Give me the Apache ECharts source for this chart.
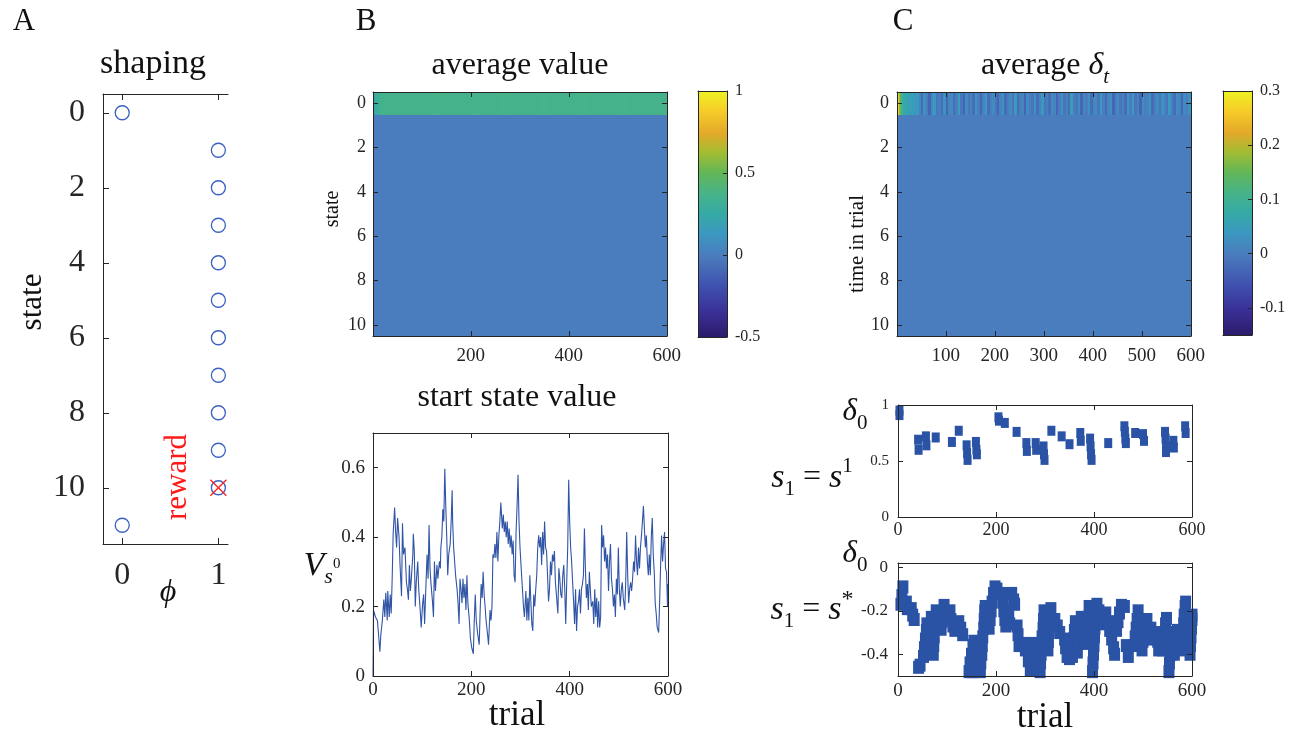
<!DOCTYPE html>
<html><head><meta charset="utf-8">
<script src="https://cdn.jsdelivr.net/npm/echarts@6/dist/echarts.min.js"></script>
<style>html,body{margin:0;padding:0;background:#fff}#c{width:1294px;height:734px}</style>
</head><body><div id="c"></div>
<script>
// ================= DATA =================
const N_TRIALS = 600;
// Panel A: shaping feature phi per state
const shapingStates = [0,1,2,3,4,5,6,7,8,9,10,11];
const shapingPhi    = [0,1,1,1,1,1,1,1,1,1,1,0];
const rewardStates  = [10];
const rewardPhi     = [1];
const stateTicks = [0,2,4,6,8,10];
const phiTicks = [0,1];

// Panel B: average value heatmap (state 0 row; other states flat)
const avgValueEarly = [0.12,0.15,0.18,0.20,0.22,0.24,0.26,0.27,0.28,0.29,0.30,0.31,0.32,0.33,0.33,0.34,0.34,0.35,0.35,0.35]; // trials 1-20
const avgValueLateBins = [0.36,0.36,0.36,0.36,0.36,0.37,0.36,0.36,0.36,0.37,0.36,0.36,0.37,0.36,0.36,0.36,0.37,0.36,0.36,0.36,0.37,0.36,0.36,0.36,0.37,0.36,0.36,0.36,0.36]; // 20-trial bins, trials 21-600
const avgValueOtherStates = [0,0,0,0,0,0,0,0,0,0]; // states 1..10
const avgValueRange = [-0.5, 1];
const avgValueCbTicks = [-0.5,0,0.5,1];

// Panel C: average delta_t heatmap
const avgDeltaEarly = [0.30,0.30,0.29,0.28,0.26,0.22,0.18,0.15,0.13,0.12,0.11,0.10,0.09,0.09,0.08,0.08,0.07,0.07,0.07,0.06]; // trials 1-20
const avgDeltaLateBins = [0.06,0.05,0.05,0.04,0.04,
 0.01,-0.02,0.03,0.00,-0.03,0.02,0.04,-0.01,0.00,-0.02,
 0.03,-0.03,0.01,0.02,-0.02,0.00,0.05,-0.01,-0.03,0.02,
 -0.01,0.01,-0.02,0.03,0.00,-0.03,0.01,0.04,-0.02,0.00,
 0.02,-0.01,-0.03,0.01,0.03,-0.02,0.00,0.02,-0.01,0.04,
 -0.02,0.00,0.01,-0.03,0.02,0.00,-0.01,0.03,-0.02,0.01,
 0.04,-0.01,0.00,-0.02,0.02,0.01,-0.03,0.00,0.03,-0.01,
 0.01,-0.02,0.05,0.00,-0.01,0.02,-0.03,0.01,0.00,0.03,
 -0.02,0.01,0.02,-0.01,0.04,0.00,-0.02,0.01,0.03,-0.03,
 0.00,0.02,-0.01,0.01,-0.02,0.03,0.00,0.04,-0.01,0.01,
 -0.03,0.02,0.00,0.01,0.03,-0.02,0.00,0.02,-0.01,0.03,
 0.01,-0.01,0.04,0.00,-0.02,0.02,0.01,-0.03,0.02,0.00,0.03]; // 5-trial bins, trials 21-600
const avgDeltaOtherTimes = [0,0,0,0,0,0,0,0,0,0];
const avgDeltaRange = [-0.15, 0.3];
const avgDeltaCbTicks = [-0.1,0,0.1,0.2,0.3];

// Panel B bottom: start state value per trial [trial, value]
const startStateValue = [[0,0],[1,0.19],[5,0.17],[9,0.16],[14,0.07],[16,0.12],[19,0.16],[22,0.22],[24,0.17],[26,0.24],[29,0.16],[30,0.245],[33,0.17],[35,0.235],[37,0.18],[39,0.28],[41,0.41],[44,0.485],[46,0.415],[48,0.37],[50,0.455],[53,0.40],[55,0.32],[58,0.23],[60,0.44],[62,0.35],[65,0.37],[68,0.27],[70,0.25],[72,0.22],[74,0.32],[76,0.245],[78,0.28],[81,0.35],[82,0.41],[84,0.36],[86,0.20],[88,0.27],[91,0.33],[93,0.25],[96,0.19],[98,0.14],[101,0.21],[103,0.235],[105,0.15],[107,0.235],[110,0.35],[112,0.28],[114,0.435],[116,0.31],[118,0.265],[121,0.215],[123,0.17],[125,0.33],[127,0.245],[130,0.32],[132,0.28],[135,0.33],[137,0.31],[138,0.37],[140,0.40],[142,0.48],[144,0.445],[146,0.597],[148,0.49],[150,0.40],[152,0.29],[154,0.35],[157,0.38],[159,0.445],[161,0.535],[162,0.445],[164,0.37],[166,0.33],[168,0.29],[171,0.25],[173,0.21],[175,0.15],[177,0.28],[179,0.25],[181,0.21],[183,0.28],[185,0.225],[187,0.265],[189,0.19],[191,0.29],[193,0.21],[196,0.16],[198,0.11],[201,0.08],[204,0.064],[206,0.16],[208,0.235],[210,0.16],[213,0.12],[216,0.09],[218,0.19],[220,0.265],[222,0.225],[224,0.30],[226,0.235],[228,0.20],[230,0.16],[233,0.12],[235,0.09],[238,0.19],[240,0.16],[242,0.20],[244,0.35],[246,0.34],[248,0.38],[250,0.34],[252,0.415],[254,0.33],[256,0.405],[258,0.445],[260,0.50],[263,0.425],[265,0.465],[267,0.415],[269,0.445],[271,0.40],[273,0.445],[275,0.38],[277,0.425],[279,0.37],[281,0.405],[283,0.35],[285,0.39],[287,0.29],[289,0.27],[291,0.415],[293,0.49],[295,0.58],[297,0.445],[299,0.37],[301,0.32],[304,0.25],[306,0.20],[308,0.17],[311,0.245],[313,0.16],[315,0.225],[317,0.16],[319,0.29],[321,0.215],[323,0.15],[325,0.13],[327,0.235],[329,0.20],[331,0.25],[333,0.29],[335,0.37],[337,0.405],[339,0.37],[341,0.40],[343,0.32],[345,0.415],[347,0.35],[349,0.445],[351,0.37],[353,0.36],[355,0.29],[357,0.215],[359,0.25],[361,0.33],[363,0.29],[365,0.35],[367,0.33],[369,0.36],[371,0.27],[373,0.235],[376,0.18],[378,0.31],[380,0.28],[382,0.235],[384,0.225],[386,0.29],[388,0.32],[390,0.25],[392,0.15],[394,0.27],[396,0.37],[398,0.565],[400,0.445],[402,0.37],[404,0.33],[406,0.27],[408,0.215],[410,0.15],[412,0.25],[414,0.13],[416,0.20],[418,0.215],[420,0.25],[422,0.18],[424,0.25],[426,0.265],[428,0.29],[430,0.425],[432,0.31],[434,0.225],[436,0.265],[438,0.19],[440,0.30],[442,0.25],[444,0.20],[447,0.215],[449,0.15],[451,0.25],[453,0.17],[455,0.225],[457,0.14],[459,0.215],[461,0.14],[463,0.17],[465,0.435],[467,0.37],[469,0.405],[471,0.33],[473,0.37],[475,0.31],[477,0.35],[479,0.245],[481,0.33],[483,0.38],[485,0.28],[487,0.25],[489,0.20],[491,0.235],[493,0.17],[495,0.28],[497,0.235],[499,0.37],[501,0.25],[503,0.20],[505,0.25],[507,0.27],[509,0.225],[512,0.19],[514,0.27],[516,0.415],[518,0.29],[520,0.21],[522,0.25],[524,0.27],[526,0.245],[528,0.28],[530,0.33],[532,0.30],[534,0.405],[536,0.33],[538,0.29],[540,0.37],[542,0.31],[544,0.37],[546,0.405],[548,0.445],[550,0.49],[552,0.425],[554,0.37],[556,0.405],[558,0.33],[560,0.29],[562,0.35],[564,0.29],[566,0.40],[568,0.455],[570,0.35],[572,0.30],[574,0.21],[576,0.18],[578,0.14],[581,0.125],[583,0.215],[585,0.32],[587,0.405],[589,0.33],[591,0.38],[593,0.415],[595,0.31],[597,0.30],[599,0.20],[600,0.265]];
const startValueTicks = [0,0.2,0.4,0.6];
const trialTicks = [0,200,400,600];

// Panel C middle: delta_0 on trials with s1 = s^1 [trial, value]
const delta0S1 = [[3,0.95],[3,0.91],[41,0.69],[42,0.6],[57,0.72],[58,0.64],[77,0.71],[110,0.67],[124,0.77],[140,0.64],[141,0.57],[142,0.51],[159,0.67],[160,0.6],[161,0.56],[205,0.89],[206,0.86],[218,0.84],[242,0.76],[262,0.66],[263,0.59],[281,0.66],[282,0.6],[297,0.63],[298,0.56],[299,0.51],[313,0.77],[334,0.72],[350,0.65],[372,0.75],[373,0.68],[392,0.7],[393,0.63],[394,0.56],[395,0.51],[429,0.66],[462,0.81],[463,0.76],[464,0.7],[465,0.66],[484,0.75],[500,0.74],[502,0.68],[545,0.76],[546,0.7],[547,0.63],[547,0.58],[562,0.68],[563,0.62],[586,0.81],[587,0.75]];
const delta0S1Ticks = [0,0.5,1];

// Panel C bottom: delta_0 on trials with s1 = s* [trial, value]
const delta0SStar = [[6,-0.17],[8,-0.13],[10,-0.09],[17,-0.16],[19,-0.19],[27,-0.19],[30,-0.22],[33,-0.24],[42,-0.46],[45,-0.45],
 [52,-0.41],[54,-0.37],[56,-0.33],[58,-0.29],[59,-0.26],[62,-0.39],[64,-0.35],[65,-0.31],[66,-0.27],[68,-0.23],
 [72,-0.4],[73,-0.36],[74,-0.32],[76,-0.28],[77,-0.24],[78,-0.2],[88,-0.285],[90,-0.25],[92,-0.21],[94,-0.175],
 [106,-0.2],[108,-0.24],[112,-0.27],[116,-0.29],[124,-0.25],[128,-0.28],[132,-0.31],
 [145,-0.48],[147,-0.44],[150,-0.4],[153,-0.36],[155,-0.34],[152,-0.48],[156,-0.46],
 [168,-0.48],[169,-0.44],[171,-0.4],[172,-0.36],[173,-0.32],[175,-0.28],[176,-0.24],[177,-0.2],[178,-0.18],
 [186,-0.28],[188,-0.24],[190,-0.2],[192,-0.16],[195,-0.12],[198,-0.09],[202,-0.1],
 [212,-0.12],[214,-0.16],[216,-0.2],[218,-0.24],[220,-0.27],[226,-0.21],[228,-0.26],[232,-0.12],[236,-0.15],[238,-0.17],
 [243,-0.27],[245,-0.31],[247,-0.36],[258,-0.35],[260,-0.38],[266,-0.43],[270,-0.47],
 [278,-0.35],[280,-0.39],[282,-0.43],[283,-0.47],
 [290,-0.48],[291,-0.44],[292,-0.4],[293,-0.36],[294,-0.32],[296,-0.28],[297,-0.24],[298,-0.2],
 [306,-0.38],[307,-0.34],[308,-0.3],[309,-0.26],[310,-0.22],[312,-0.19],[320,-0.24],[325,-0.27],[330,-0.3],
 [340,-0.33],[342,-0.37],[345,-0.41],[350,-0.42],[356,-0.41],[357,-0.37],[358,-0.33],[360,-0.29],[362,-0.25],
 [366,-0.39],[368,-0.35],[370,-0.31],[372,-0.27],[374,-0.23],[382,-0.35],[384,-0.31],[386,-0.27],[388,-0.23],[390,-0.18],
 [397,-0.48],[398,-0.44],[399,-0.4],[400,-0.36],[401,-0.32],[402,-0.28],[403,-0.24],
 [406,-0.17],[410,-0.2],[414,-0.23],[417,-0.26],[424,-0.21],[428,-0.25],[432,-0.29],[436,-0.33],[440,-0.37],[442,-0.4],
 [446,-0.29],[449,-0.25],[452,-0.21],[456,-0.175],[462,-0.18],[466,-0.36],[470,-0.41],
 [482,-0.36],[484,-0.32],[486,-0.28],[488,-0.24],[490,-0.2],[498,-0.38],[500,-0.34],[502,-0.3],[505,-0.26],[508,-0.24],
 [516,-0.28],[518,-0.33],[526,-0.3],[530,-0.34],[532,-0.38],[540,-0.38],[542,-0.34],[544,-0.3],[546,-0.26],[548,-0.235],
 [553,-0.48],[554,-0.44],[556,-0.4],[557,-0.36],[558,-0.32],[559,-0.3],[564,-0.4],[566,-0.36],[568,-0.32],[570,-0.29],
 [578,-0.38],[580,-0.34],[582,-0.3],[583,-0.26],[584,-0.22],[586,-0.18],[587,-0.16],
 [596,-0.4],[597,-0.36],[598,-0.32],[599,-0.28],[600,-0.24],[600,-0.22]];
const delta0SStarTicks = [-0.4,-0.2,0];
const heatTrialTicksB = [200,400,600];
const heatTrialTicksC = [100,200,300,400,500,600];

// ================= STYLE / HELPERS =================
const SERIF = '"Liberation Serif","DejaVu Serif","Times New Roman",serif';
const AX = '#262626';
const BLUE = '#2a53a5';
const parulaStops = [
  [0.00,'#2c1b6b'],[0.10,'#3a2f95'],[0.20,'#3f4fae'],[0.333,'#4a7dbd'],[0.42,'#3b98c0'],
  [0.50,'#35aaa5'],[0.58,'#46b38a'],[0.667,'#62b657'],[0.75,'#a3bd32'],[0.83,'#e4a92a'],
  [0.92,'#f6cd28'],[1.00,'#eef222']];
function hex2rgb(h){return [parseInt(h.slice(1,3),16),parseInt(h.slice(3,5),16),parseInt(h.slice(5,7),16)];}
function colormap(t){
  t = Math.max(0, Math.min(1, t));
  for (let i=1;i<parulaStops.length;i++){
    const [t1,c1]=parulaStops[i-1],[t2,c2]=parulaStops[i];
    if (t<=t2){const f=(t-t1)/(t2-t1);const a=hex2rgb(c1),b=hex2rgb(c2);
      return 'rgb('+a.map((v,k)=>Math.round(v+(b[k]-v)*f)).join(',')+')';}
  }
  return parulaStops[parulaStops.length-1][1];
}
function buildHeat(early, late, binSize, others){
  const out=[];
  others.forEach((v,k)=>out.push([1,N_TRIALS,k+1,v]));
  early.forEach((v,i)=>out.push([i+1,i+1,0,v]));
  late.forEach((v,j)=>{const s=early.length+1+j*binSize; out.push([s,Math.min(s+binSize-1,N_TRIALS),0,v]);});
  return out;
}

const grids=[], xAxes=[], yAxes=[];
function addGrid(l,t,w,h){grids.push({left:l,top:t,width:w,height:h,containLabel:false,outerBoundsMode:'none'});return grids.length-1;}
function mkAxis(arr, g, position, min, max, o){
  o=o||{};
  const ticks=o.ticks||null;
  arr.push({type:'value', gridIndex:g, position, min, max, inverse:!!o.inverse,
    splitLine:{show:false},
    axisLine:{show:o.line!==false,onZero:false,lineStyle:{color:AX,width:1}},
    axisTick:{show:!!ticks,inside:true,length:o.tickLen||5,lineStyle:{color:AX,width:1},customValues:ticks||undefined},
    axisLabel:{show:!!(o.labels&&ticks),customValues:ticks||undefined,color:AX,fontFamily:SERIF,fontSize:o.fontSize||19,margin:o.margin==null?8:o.margin,hideOverlap:false},
    z:10});
  return arr.length-1;
}
function boxAxes(g, xr, yr, o){
  const xi=mkAxis(xAxes,g,'bottom',xr[0],xr[1],{ticks:o.xt,labels:true,fontSize:o.xfs,margin:o.xm});
  mkAxis(xAxes,g,'top',xr[0],xr[1],{ticks:o.xt,labels:false});
  const yi=mkAxis(yAxes,g,'left',yr[0],yr[1],{ticks:o.yt,labels:true,fontSize:o.yfs,margin:o.ym,inverse:o.inv});
  mkAxis(yAxes,g,'right',yr[0],yr[1],{ticks:o.yt,labels:false,inverse:o.inv});
  return [xi,yi];
}
function colorbarAxes(g, r, ticks){
  const xi=mkAxis(xAxes,g,'bottom',0,1,{});
  mkAxis(xAxes,g,'top',0,1,{});
  mkAxis(yAxes,g,'left',r[0],r[1],{});
  const yi=mkAxis(yAxes,g,'right',r[0],r[1],{ticks,labels:true,fontSize:16,margin:8,tickLen:4});
  return [xi,yi];
}
function heatRender(range){
  return function(params, api){
    const a=api.coord([api.value(0)-0.5, api.value(2)-0.5]);
    const b=api.coord([api.value(1)+0.5, api.value(2)+0.5]);
    const x0=Math.floor(Math.min(a[0],b[0])), x1=Math.ceil(Math.max(a[0],b[0]));
    const y0=Math.floor(Math.min(a[1],b[1])), y1=Math.ceil(Math.max(a[1],b[1]));
    const c=colormap((api.value(3)-range[0])/(range[1]-range[0]));
    return {type:'rect',shape:{x:x0,y:y0,width:x1-x0,height:y1-y0},style:{fill:c}};
  };
}
function cbRender(params, api){
  const a=api.coord([0,api.value(2)]), b=api.coord([1,api.value(3)]);
  return {type:'rect',shape:{x:Math.min(a[0],b[0]),y:Math.min(a[1],b[1]),width:Math.abs(b[0]-a[0]),height:Math.abs(b[1]-a[1])},
    style:{fill:new echarts.graphic.LinearGradient(0,1,0,0,parulaStops.map(s=>({offset:s[0],color:s[1]})))}};
}

// ---- grids ----
const gA = addGrid(103,94,125,450);
const gBh = addGrid(373,92,294,244);
const gBc = addGrid(698,91,29,246);
const gBl = addGrid(373,433,295,243);
const gCh = addGrid(897,92,294,244);
const gCc = addGrid(1223,91,29,244);
const gCm = addGrid(898,405,294,112);
const gCb = addGrid(898,563,294,113);

// Panel A axes (left, bottom, top)
const axA_x = mkAxis(xAxes,gA,'bottom',-0.2,1.1,{ticks:phiTicks,labels:true,fontSize:32,margin:16,tickLen:6});
mkAxis(xAxes,gA,'top',-0.2,1.1,{ticks:phiTicks,labels:false,tickLen:6});
const axA_y = mkAxis(yAxes,gA,'left',-0.5,11.5,{ticks:stateTicks,labels:true,fontSize:32,margin:18,inverse:true,tickLen:6});

const [axBh_x,axBh_y]=boxAxes(gBh,[0.5,N_TRIALS+0.5],[-0.5,10.5],{xt:heatTrialTicksB,yt:stateTicks,inv:true,xfs:19,yfs:18,xm:11,ym:7});
const [axBc_x,axBc_y]=colorbarAxes(gBc,avgValueRange,avgValueCbTicks);
const [axBl_x,axBl_y]=boxAxes(gBl,[0,N_TRIALS],[0,0.7],{xt:trialTicks,yt:startValueTicks,xfs:19,yfs:19,xm:5,ym:8});
const [axCh_x,axCh_y]=boxAxes(gCh,[0.5,N_TRIALS+0.5],[-0.5,10.5],{xt:heatTrialTicksC,yt:stateTicks,inv:true,xfs:19,yfs:18,xm:11,ym:8});
const [axCc_x,axCc_y]=colorbarAxes(gCc,avgDeltaRange,avgDeltaCbTicks);
const [axCm_x,axCm_y]=boxAxes(gCm,[0,N_TRIALS],[0,1],{xt:trialTicks,yt:delta0S1Ticks,xfs:18,yfs:15,xm:4,ym:9});
const [axCb_x,axCb_y]=boxAxes(gCb,[0,N_TRIALS],[-0.5,0.02],{xt:trialTicks,yt:delta0SStarTicks,xfs:19,yfs:17,xm:6,ym:10});

const series = [
  {type:'scatter', xAxisIndex:axA_x, yAxisIndex:axA_y, symbol:'circle', symbolSize:14,
   itemStyle:{color:'rgba(0,0,0,0)',borderColor:'#3a60c0',borderWidth:1.3,opacity:1},
   data: shapingStates.map((s,i)=>[shapingPhi[i], s]), z:3, silent:true},
  {type:'custom', xAxisIndex:axA_x, yAxisIndex:axA_y, data: rewardStates.map((s,i)=>[rewardPhi[i], s]), z:4,
   renderItem:(p,api)=>{const c=api.coord([api.value(0),api.value(1)]);const r=8;
     return {type:'group',children:[
       {type:'line',shape:{x1:c[0]-r,y1:c[1]-r,x2:c[0]+r,y2:c[1]+r},style:{stroke:'#ff1a1a',lineWidth:1.2}},
       {type:'line',shape:{x1:c[0]-r,y1:c[1]+r,x2:c[0]+r,y2:c[1]-r},style:{stroke:'#ff1a1a',lineWidth:1.2}}]};}},
  {type:'custom', xAxisIndex:axBh_x, yAxisIndex:axBh_y, renderItem:heatRender(avgValueRange),
   encode:{x:[0,1],y:2}, data: buildHeat(avgValueEarly, avgValueLateBins, 20, avgValueOtherStates), z:1},
  {type:'custom', xAxisIndex:axBc_x, yAxisIndex:axBc_y, renderItem:cbRender, encode:{x:[0,1],y:[2,3]},
   data:[[0,1,avgValueRange[0],avgValueRange[1]]], z:1},
  {type:'line', xAxisIndex:axBl_x, yAxisIndex:axBl_y, data:startStateValue, showSymbol:false, symbol:'none',
   lineStyle:{color:'#3054a6',width:1.1}, z:2},
  {type:'custom', xAxisIndex:axCh_x, yAxisIndex:axCh_y, renderItem:heatRender(avgDeltaRange),
   encode:{x:[0,1],y:2}, data: buildHeat(avgDeltaEarly, avgDeltaLateBins, 5, avgDeltaOtherTimes), z:1},
  {type:'custom', xAxisIndex:axCc_x, yAxisIndex:axCc_y, renderItem:cbRender, encode:{x:[0,1],y:[2,3]},
   data:[[0,1,avgDeltaRange[0],avgDeltaRange[1]]], z:1},
  {type:'scatter', xAxisIndex:axCm_x, yAxisIndex:axCm_y, symbol:'rect', symbolSize:[8,10],
   itemStyle:{color:BLUE,opacity:1}, data:delta0S1, z:2, silent:true},
  {type:'scatter', xAxisIndex:axCb_x, yAxisIndex:axCb_y, symbol:'rect', symbolSize:[11,13],
   itemStyle:{color:BLUE,opacity:1}, data:delta0SStar, z:2, silent:true}
];

// ---- texts ----
function txt(x,y,text,size,extra){
  return Object.assign({type:'text',x,y,z:100,style:Object.assign({text,fontFamily:SERIF,fontSize:size,fill:'#111',align:'center',verticalAlign:'middle'},extra&&extra.style||{})},extra&&extra.el||{});
}
const I = (fs)=>({fontFamily:SERIF,fontStyle:'italic',fontSize:fs,lineHeight:44,verticalAlign:'middle',fill:'#111'});
const N = (fs)=>({fontFamily:SERIF,fontSize:fs,lineHeight:44,verticalAlign:'middle',fill:'#111'});
const graphics = [
  txt(24,22,'A',31), txt(366,22,'B',31), txt(903,22,'C',31),
  txt(153,64,'shaping',34),
  txt(33,302,'state',31,{el:{rotation:Math.PI/2}}),
  txt(178,477,'reward',31,{el:{rotation:Math.PI/2},style:{fill:'#ff1a1a'}}),
  txt(168,593,'ϕ',32,{style:{fontStyle:'italic'}}),
  txt(520,66,'average value',32),
  txt(333,209,'state',20,{el:{rotation:Math.PI/2}}),
  txt(517,398,'start state value',32),
  txt(517,716,'trial',35),
  txt(857,244,'time in trial',21,{el:{rotation:Math.PI/2}}),
  txt(1045,718,'trial',35),
  {type:'text',x:1045,y:66,z:100,style:{text:'{n|average }{i|δ}{s|t}',align:'center',verticalAlign:'middle',
    rich:{n:N(32),i:I(32),s:Object.assign(I(21),{verticalAlign:'bottom',lineHeight:24})}}},
  {type:'text',x:322,y:566,z:100,style:{text:'{v|V}{s|s}{z|0}',align:'center',verticalAlign:'middle',
    rich:{v:I(34),s:Object.assign(I(22),{verticalAlign:'bottom',lineHeight:24}),z:Object.assign(N(15),{verticalAlign:'bottom',lineHeight:20,padding:[0,0,16,0]})}}},
  {type:'text',x:855,y:412,z:100,style:{text:'{i|δ}{s|0}',align:'center',verticalAlign:'middle',
    rich:{i:I(31),s:Object.assign(N(21),{verticalAlign:'bottom',lineHeight:26})}}},
  {type:'text',x:812,y:478,z:100,style:{text:'{i|s}{b|1}{n| = }{i|s}{p|1}',align:'center',verticalAlign:'middle',
    rich:{i:I(34),n:N(32),b:Object.assign(N(21),{verticalAlign:'bottom',lineHeight:26}),p:Object.assign(N(21),{verticalAlign:'top',lineHeight:26})}}},
  {type:'text',x:855,y:554,z:100,style:{text:'{i|δ}{s|0}',align:'center',verticalAlign:'middle',
    rich:{i:I(31),s:Object.assign(N(21),{verticalAlign:'bottom',lineHeight:26})}}},
  {type:'text',x:812,y:610,z:100,style:{text:'{i|s}{b|1}{n| = }{i|s}{p|*}',align:'center',verticalAlign:'middle',
    rich:{i:I(34),n:N(32),b:Object.assign(N(21),{verticalAlign:'bottom',lineHeight:26}),p:Object.assign(N(24),{verticalAlign:'top',lineHeight:26})}}}
];

const chart = echarts.init(document.getElementById('c'), null, {renderer:'canvas'});
chart.setOption({animation:false, backgroundColor:'#fff', grid:grids, xAxis:xAxes, yAxis:yAxes, series, graphic:graphics});
</script></body></html>
